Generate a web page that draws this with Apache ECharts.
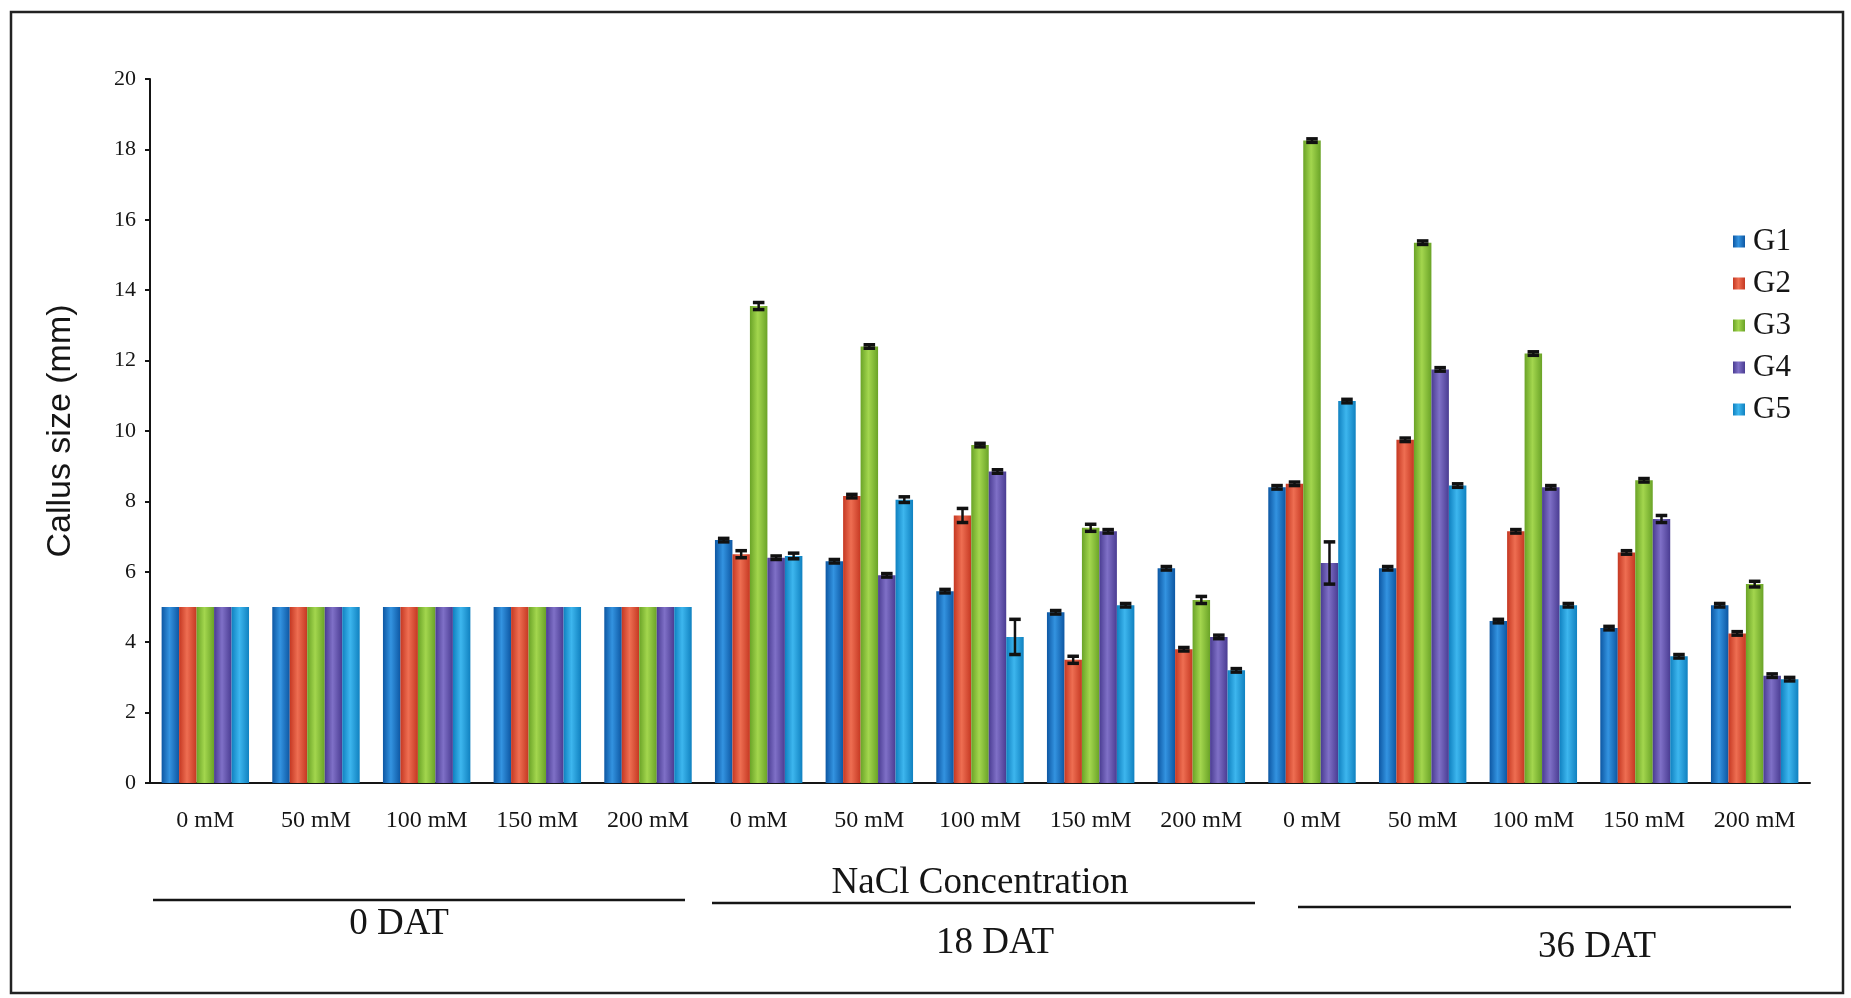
<!DOCTYPE html>
<html>
<head>
<meta charset="utf-8">
<title>Callus size</title>
<script src="https://cdn.jsdelivr.net/npm/echarts@6/dist/echarts.min.js"></script>
<style>
  html, body { margin: 0; padding: 0; background: #fff; }
  #chart { width: 1851px; height: 998px; }
</style>
</head>
<body>
<div id="chart"></div>
<script>
// categories: NaCl level, repeated for 0, 18 and 36 DAT
var categories = [
  '0 mM', '50 mM', '100 mM', '150 mM', '200 mM',
  '0 mM', '50 mM', '100 mM', '150 mM', '200 mM',
  '0 mM', '50 mM', '100 mM', '150 mM', '200 mM'
];
var seriesNames = ['G1', 'G2', 'G3', 'G4', 'G5'];
var yTicks = [0, 20, 2]; // min, max, interval

var g1 = [5, 5, 5, 5, 5, 6.9, 6.3, 5.45, 4.85, 6.1, 8.4, 6.1, 4.6, 4.4, 5.05];
var g2 = [5, 5, 5, 5, 5, 6.5, 8.15, 7.6, 3.5, 3.8, 8.5, 9.75, 7.15, 6.55, 4.25];
var g3 = [5, 5, 5, 5, 5, 13.55, 12.4, 9.6, 7.25, 5.2, 18.25, 15.35, 12.2, 8.6, 5.65];
var g4 = [5, 5, 5, 5, 5, 6.4, 5.9, 8.85, 7.15, 4.15, 6.25, 11.75, 8.4, 7.5, 3.05];
var g5 = [5, 5, 5, 5, 5, 6.45, 8.05, 4.15, 5.05, 3.2, 10.85, 8.45, 5.05, 3.6, 2.95];

// error bars (+/-)
var e1 = [0, 0, 0, 0, 0, 0.05, 0.05, 0.05, 0.05, 0.05, 0.05, 0.05, 0.05, 0.05, 0.05];
var e2 = [0, 0, 0, 0, 0, 0.1, 0.05, 0.2, 0.1, 0.05, 0.05, 0.05, 0.05, 0.05, 0.05];
var e3 = [0, 0, 0, 0, 0, 0.1, 0.05, 0.05, 0.1, 0.1, 0.05, 0.05, 0.05, 0.05, 0.08];
var e4 = [0, 0, 0, 0, 0, 0.05, 0.05, 0.05, 0.05, 0.05, 0.6, 0.05, 0.05, 0.1, 0.05];
var e5 = [0, 0, 0, 0, 0, 0.08, 0.08, 0.5, 0.05, 0.05, 0.05, 0.05, 0.05, 0.05, 0.05];

var values = [g1, g2, g3, g4, g5];
var errors = [e1, e2, e3, e4, e5];

// [dark edge, light middle]
var colors = [
  ['#0d57a3', '#3393e0'],
  ['#c53822', '#ee6e52'],
  ['#6aa327', '#a3d64e'],
  ['#4a3c92', '#7f70c7'],
  ['#1081c0', '#3db6ee']
];

var catGap = 0.21;

var chart = echarts.init(document.getElementById('chart'));

function barColor(c) {
  return new echarts.graphic.LinearGradient(0, 0, 1, 0, [
    { offset: 0, color: c[0] },
    { offset: 0.45, color: c[1] },
    { offset: 1, color: c[0] }
  ]);
}

var series = [];
for (var i = 0; i < seriesNames.length; i++) {
  series.push({
    name: seriesNames[i],
    type: 'bar',
    barGap: '0%',
    barCategoryGap: (catGap * 100) + '%',
    itemStyle: { color: barColor(colors[i]) },
    data: values[i]
  });
}

var errData = [];
for (var s = 0; s < values.length; s++) {
  for (var k = 0; k < categories.length; k++) {
    errData.push([k, s, values[s][k], errors[s][k]]);
  }
}

function renderErr(params, api) {
  var cat = api.value(0), s = api.value(1), v = api.value(2), e = api.value(3);
  if (!e) return;
  var catW = api.size([1, 0])[0];
  var bw = catW * (1 - catGap) / 5;
  var x = api.coord([cat, 0])[0] + (s - 2) * bw;
  var top = api.coord([cat, v + e])[1];
  var bot = api.coord([cat, v - e])[1];
  var cw = bw * 0.33;
  var st = { stroke: '#111', lineWidth: 2.5 };
  var cap = { stroke: '#111', lineWidth: 3.5 };
  return {
    type: 'group',
    children: [
      { type: 'line', shape: { x1: x, y1: top, x2: x, y2: bot }, style: st },
      { type: 'line', shape: { x1: x - cw, y1: top, x2: x + cw, y2: top }, style: cap },
      { type: 'line', shape: { x1: x - cw, y1: bot, x2: x + cw, y2: bot }, style: cap }
    ]
  };
}

series.push({
  type: 'custom',
  name: 'err',
  renderItem: renderErr,
  encode: { x: 0, y: 2 },
  z: 5,
  data: errData
});

var serif = 'Liberation Serif';
var ink = '#151515';

var option = {
  backgroundColor: '#fff',
  animation: false,
  textStyle: { fontFamily: serif, color: ink },
  legend: {
    data: seriesNames,
    orient: 'vertical',
    left: 1733,
    top: 226,
    padding: 0,
    itemWidth: 12,
    itemHeight: 12,
    itemGap: 11,
    icon: 'rect',
    textStyle: { fontFamily: serif, fontSize: 31, lineHeight: 30, color: ink, padding: [0, 0, 0, 3] }
  },
  grid: { left: 150, right: 41, top: 79, bottom: 215 },
  xAxis: {
    type: 'category',
    data: categories,
    name: 'NaCl Concentration',
    nameLocation: 'middle',
    nameGap: 82,
    nameTextStyle: { fontFamily: serif, fontSize: 37, color: ink },
    axisLine: { lineStyle: { color: ink, width: 2 } },
    axisTick: { length: 7, lineStyle: { color: ink, width: 2 } },
    axisLabel: { interval: 0, fontFamily: serif, fontSize: 24, color: ink, margin: 26 }
  },
  yAxis: {
    type: 'value',
    min: yTicks[0],
    max: yTicks[1],
    interval: yTicks[2],
    name: 'Callus size (mm)',
    nameLocation: 'middle',
    nameGap: 72,
    nameTextStyle: { fontFamily: 'Liberation Sans', fontSize: 34, color: ink },
    splitLine: { show: false },
    axisLine: { show: true, lineStyle: { color: ink, width: 2 } },
    axisTick: { show: true, length: 5, lineStyle: { color: ink, width: 2 } },
    axisLabel: { fontFamily: serif, fontSize: 22, color: ink, margin: 14 }
  },
  graphic: [
    { type: 'rect', shape: { x: 11, y: 12, width: 1832, height: 981 }, style: { fill: 'none', stroke: '#222', lineWidth: 2.5 }, z: -1 },
    { type: 'line', shape: { x1: 153, y1: 900, x2: 685, y2: 900 }, style: { stroke: ink, lineWidth: 2.5 } },
    { type: 'line', shape: { x1: 712, y1: 903, x2: 1255, y2: 903 }, style: { stroke: ink, lineWidth: 2.5 } },
    { type: 'line', shape: { x1: 1298, y1: 907, x2: 1791, y2: 907 }, style: { stroke: ink, lineWidth: 2.5 } },
    { type: 'text', x: 399, y: 924, style: { text: '0 DAT', font: '37px "Liberation Serif"', fill: ink, align: 'center', verticalAlign: 'middle' } },
    { type: 'text', x: 995, y: 943, style: { text: '18 DAT', font: '37px "Liberation Serif"', fill: ink, align: 'center', verticalAlign: 'middle' } },
    { type: 'text', x: 1597, y: 947, style: { text: '36 DAT', font: '37px "Liberation Serif"', fill: ink, align: 'center', verticalAlign: 'middle' } }
  ],
  series: series
};

chart.setOption(option);
</script>
</body>
</html>
